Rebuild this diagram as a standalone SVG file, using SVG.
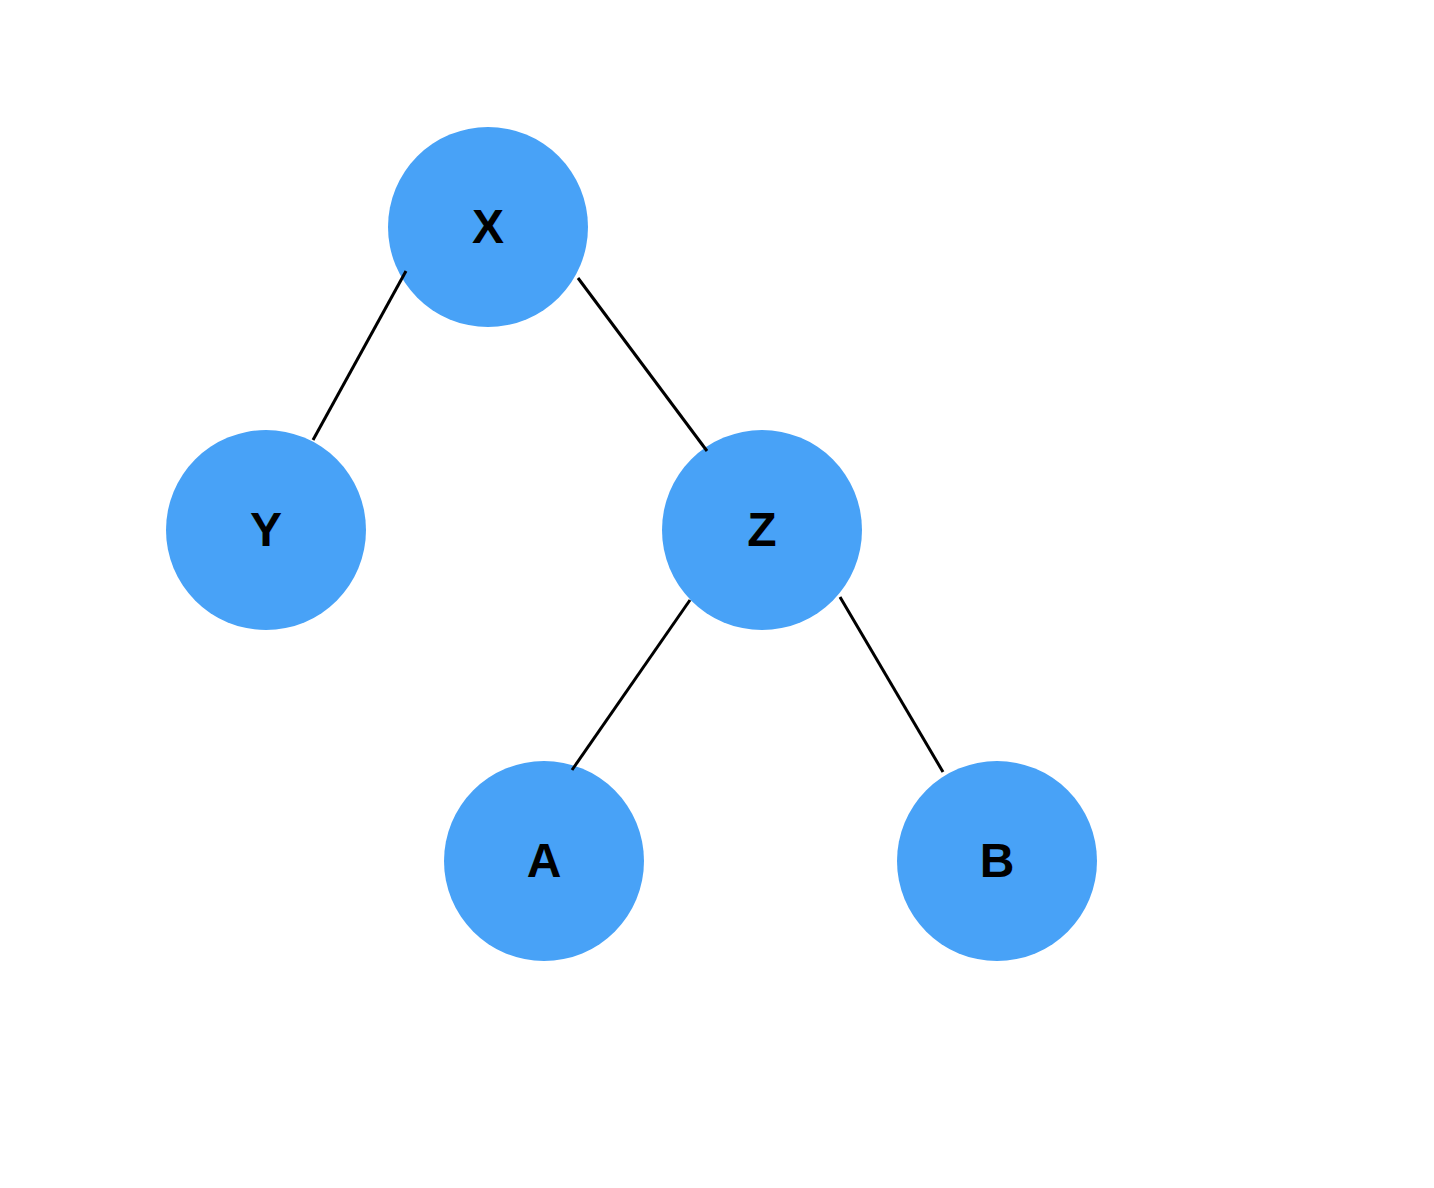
<svg xmlns="http://www.w3.org/2000/svg" width="1434" height="1188" viewBox="0 0 1434 1188">
<style>
.n{fill:#48A2F7}
.t{font-family:"Liberation Sans",Arial,sans-serif;font-weight:bold;font-size:48px;fill:#000;text-anchor:middle;dominant-baseline:central}
.e{stroke:#000;stroke-width:3;fill:none}
</style>
<rect width="1434" height="1188" fill="#fff"/>
<g id="node-X"><circle class="n" cx="488" cy="227" r="100"/><text class="t" x="488" y="226">X</text></g>
<g id="node-Y"><circle class="n" cx="266" cy="530" r="100"/><text class="t" x="266" y="529">Y</text></g>
<g id="node-Z"><circle class="n" cx="762" cy="530" r="100"/><text class="t" x="762" y="529">Z</text></g>
<g id="node-A"><circle class="n" cx="544" cy="861" r="100"/><text class="t" x="544" y="860">A</text></g>
<g id="node-B"><circle class="n" cx="997" cy="861" r="100"/><text class="t" x="997" y="860">B</text></g>
<g id="connectors">
<line class="e" x1="406" y1="271" x2="313" y2="440"/>
<line class="e" x1="578" y1="278" x2="707" y2="451"/>
<line class="e" x1="690" y1="600" x2="572" y2="770"/>
<line class="e" x1="840" y1="597" x2="943" y2="772"/>
</g>
</svg>
